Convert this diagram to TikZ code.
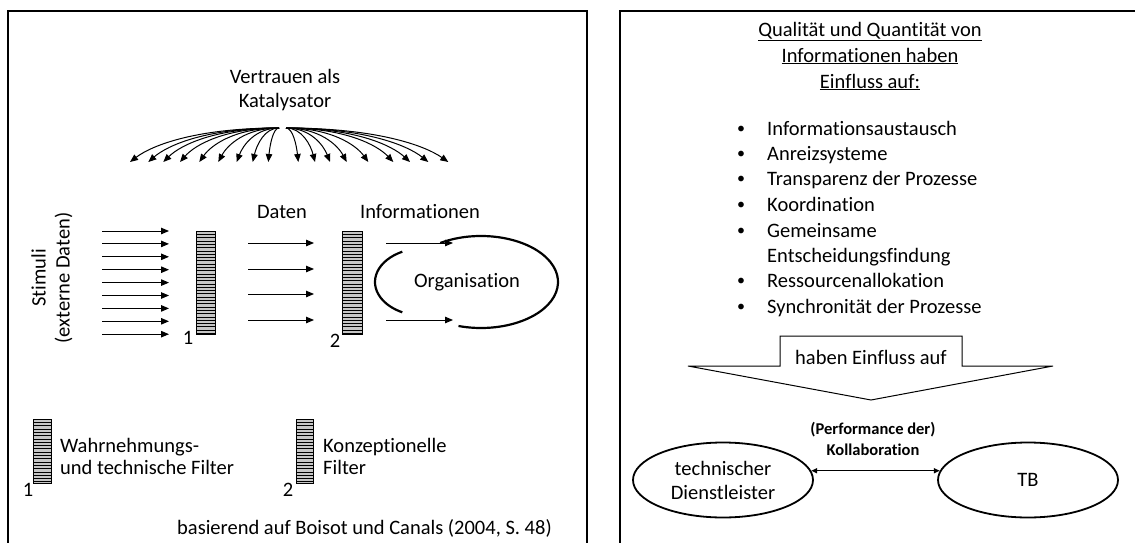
\documentclass[tikz,border=0pt]{standalone}
\usepackage{fontspec}
\setmainfont{Carlito}[Ligatures=NoCommon]
\usetikzlibrary{arrows.meta,shapes.geometric}

% striped filter bar: corners (x1,y1) and (x2,y2)
\newcommand\hatchbar[4]{%
  \fill[gray!45] (#1,#2) rectangle (#3,#4);
  \pgfmathsetmacro\nlines{int((#4-#2)/3.3)}
  \foreach \k in {1,...,\nlines}{\draw[line width=0.6pt] (#1,#2+\k*3.3) -- (#3,#2+\k*3.3);}
  \draw[line width=0.9pt] (#1,#2) rectangle (#3,#4);}

\begin{document}
\begin{tikzpicture}[x=1pt,y=-1pt,
  font=\fontsize{20.5}{24}\selectfont,
  arr/.style={-{Triangle[length=8pt,width=6.5pt]}, line width=1pt},
  frame/.style={line width=1.3pt},
  lbl/.style={inner sep=0pt},
  party/.style={ellipse, draw, line width=1.8pt, minimum width=180pt, minimum height=75pt, inner sep=0pt, align=center},
  arcline/.style={line width=2.2pt}]
\useasboundingbox (0,0) rectangle (1135,543);
\clip (0,0) rectangle (1135,543);

% panel frames
\draw[frame] (8,545) |- (587,11) -- (587,545);
\draw[frame] (620,545) |- (1140,11);

% ---------- left panel ----------
\node[lbl, align=center] (trust) at (285,90) {Vertrauen als\\Katalysator};

\coordinate (fanL) at (279,128);
\coordinate (fanR) at (286,128);
\foreach \tx [count=\i] in {130,148.3,163.3,180,199.3,218.3,236.7,252.7,268.3} {
  \pgfmathsetmacro\dx{\tx-279}
  \coordinate (fl\i) at (\tx,162);
  \draw[arr] (fanL) .. controls +(0.55*\dx,0) and +(-0.15*\dx,-17) .. (fl\i);
}
\foreach \tx [count=\i] in {298.3,315,330,346.7,368.3,393.3,410,428.3,448.3} {
  \pgfmathsetmacro\dx{\tx-286}
  \coordinate (fr\i) at (\tx,162);
  \draw[arr] (fanR) .. controls +(0.55*\dx,0) and +(-0.15*\dx,-17) .. (fr\i);
}

\node[lbl, rotate=90, align=center] (stim) at (52,278) {Stimuli\\(externe Daten)};

% external stimuli
\foreach \i in {0,...,8} {
  \pgfmathsetmacro\yy{231+12.9*\i}
  \coordinate (sa\i) at (102,\yy);
  \coordinate (sb\i) at (169,\yy);
  \draw[arr] (sa\i) -- (sb\i);
}

% filters
\hatchbar{196}{231}{215}{334}
\node[lbl] (n1) at (188,338) {1};
\hatchbar{342}{231}{362}{334}
\node[lbl] (n2) at (335,341) {2};

\node[lbl] (daten) at (282,212) {Daten};
\node[lbl] (info) at (420,212) {Informationen};

\foreach \yy [count=\i] in {243,269,294,320} {
  \coordinate (da\i) at (248,\yy);
  \coordinate (db\i) at (314,\yy);
  \draw[arr] (da\i) -- (db\i);
}
\foreach \yy [count=\i] in {243,320} {
  \coordinate (ia\i) at (386,\yy);
  \coordinate (ib\i) at (453,\yy);
  \draw[arr] (ia\i) -- (ib\i);
}

% organisation
\coordinate (org) at (481,282);
\coordinate (orgin) at (425,282);
\draw[arcline] (org) ++(-122:77 and 46) arc[start angle=-122, end angle=107, x radius=77, y radius=46];
\draw[arcline] (orgin) ++(243:50 and 34) arc[start angle=243, end angle=117, x radius=50, y radius=34];
\node[lbl] (orgtxt) at (467,282) {Organisation};

% legend
\hatchbar{33}{419}{51}{483}
\node[lbl] (l1) at (28,490) {1};
\node[lbl, anchor=west, align=left, font=\fontsize{20.5}{22}\selectfont] (l1t) at (60,456) {Wahrnehmungs-\\und technische Filter};
\hatchbar{296}{419}{313}{483}
\node[lbl] (l2) at (288,490) {2};
\node[lbl, anchor=west, align=left, font=\fontsize{20.5}{22}\selectfont] (l2t) at (323,456) {Konzeptionelle\\Filter};

\node[lbl, anchor=west] (src) at (177,528) {basierend auf Boisot und Canals (2004, S. 48)};

% ---------- right panel ----------
\node[lbl, align=center, font=\fontsize{20.5}{26}\selectfont] (title) at (870,56)
  {\underline{Qualität und Quantität von}\\\underline{Informationen haben}\\\underline{Einfluss auf:}};

% bullet list, placed on text baselines
\foreach \txt/\yy [count=\i] in {Informationsaustausch/128, Anreizsysteme/153, Transparenz der Prozesse/178, Koordination/204, Gemeinsame/230, Ressourcenallokation/280, Synchronität der Prozesse/306} {
  \node[lbl, anchor=base west] (it\i) at (767,\yy+7) {\txt};
  \node[lbl, anchor=base, font=\fontsize{16}{18}\selectfont] (bu\i) at (741,\yy+5) {•};
}
\node[lbl, anchor=base west] (it5b) at (767,262) {Entscheidungsfindung};

% block arrow
\draw[line width=1pt, fill=white] (688,366) -- (780,366) -- (780,336) -- (962,336) -- (962,366) -- (1053,366) -- (871,400) -- cycle;
\node[lbl] (impact) at (871,357) {haben Einfluss auf};

\node[party] (td) at (723,480) {technischer\\Dienstleister};
\node[party] (tb) at (1028,480) {TB};
\draw[{Triangle[length=6pt,width=5pt]}-{Triangle[length=6pt,width=5pt]}, line width=1.5pt] (td.6) -- (tb.174);
\node[lbl, align=center, font=\fontsize{16.5}{21}\bfseries] (perf) at (873,439) {(Performance der)\\Kollaboration};
\end{tikzpicture}
\end{document}
